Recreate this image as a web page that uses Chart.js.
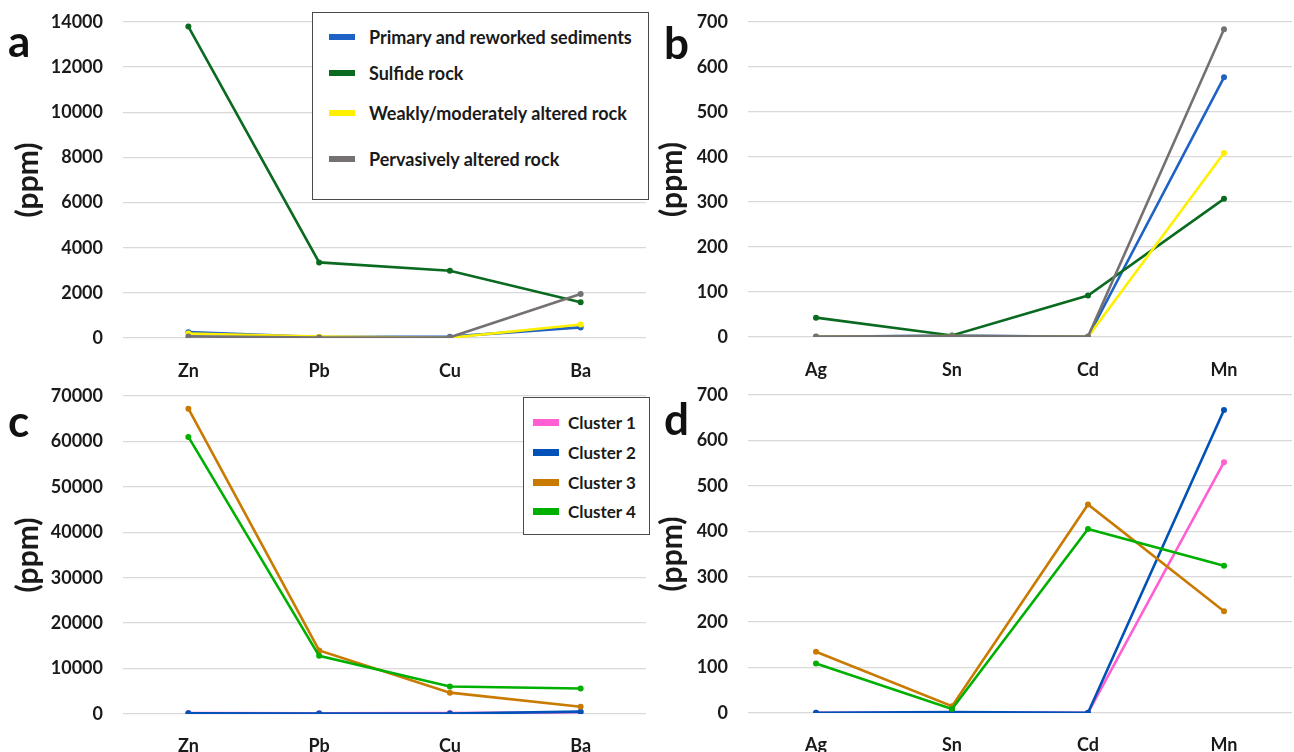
<!DOCTYPE html>
<html>
<head>
<meta charset="utf-8">
<script src="https://cdn.jsdelivr.net/npm/chart.js@4.4.1/dist/chart.umd.min.js"></script>
<style>
  html, body { margin: 0; padding: 0; background: #ffffff; }
  #wrap { position: relative; width: 1294px; height: 752px; overflow: hidden; font-family: "Lato", "DejaVu Sans", sans-serif; }
  canvas { position: absolute; }
  .letter { position: absolute; font-weight: 700; font-size: 44px; line-height: 1; color: #111; }
  .legend { position: absolute; border: 1.5px solid #4a4a4a; background: #fff; box-sizing: border-box; }
  .legend .item { position: absolute; display: flex; align-items: center; white-space: nowrap; font-weight: 700; color: #1a1a1a; }
  .legend .sw { display: inline-block; width: 26px; flex: none; }
</style>
</head>
<body>
<div id="wrap">
  <canvas id="chartA" width="650" height="380" style="left:0;top:0"></canvas>
  <canvas id="chartB" width="646" height="380" style="left:650px;top:0"></canvas>
  <canvas id="chartC" width="650" height="376" style="left:0;top:376px"></canvas>
  <canvas id="chartD" width="646" height="376" style="left:650px;top:376px"></canvas>
  <div class="letter" style="left:8px;top:18px">a</div>
  <div class="letter" style="left:664px;top:20px">b</div>
  <div class="letter" style="left:8px;top:398px">c</div>
  <div class="letter" style="left:664px;top:396px">d</div>
  <div id="legendA" class="legend" style="left:312px;top:12px;width:337px;height:188px"></div>
  <div id="legendC" class="legend" style="left:523px;top:397px;width:127px;height:138px"></div>
</div>
<script>
// Element categories
const majorElements = ['Zn', 'Pb', 'Cu', 'Ba'];
const traceElements = ['Ag', 'Sn', 'Cd', 'Mn'];

// Lithology groups (panels a, b)
const rockTypes = ['Primary and reworked sediments', 'Sulfide rock', 'Weakly/moderately altered rock', 'Pervasively altered rock'];
const rockColors = ['#1f62c6', '#0a6a20', '#fff000', '#767171'];

// Panel a: Zn, Pb, Cu, Ba (ppm)
const primarySedMajor = [260, 40, 60, 470];
const sulfideMajor = [13800, 3350, 2980, 1580];
const weaklyAlteredMajor = [200, 60, 10, 600];
const pervasiveMajor = [70, 20, 30, 1950];

// Panel b: Ag, Sn, Cd, Mn (ppm)
const primarySedTrace = [0.5, 3, 0.5, 577];
const sulfideTrace = [43, 3.5, 92, 307];
const weaklyAlteredTrace = [0.5, 2, 0.3, 409];
const pervasiveTrace = [1, 2, 1, 684];

// Clusters (panels c, d)
const clusterNames = ['Cluster 1', 'Cluster 2', 'Cluster 3', 'Cluster 4'];
const clusterColors = ['#ff5fd2', '#0052b8', '#c97a00', '#00b000'];

// Panel c: Zn, Pb, Cu, Ba (ppm)
const cluster1Major = [200, 150, 200, 400];
const cluster2Major = [150, 100, 100, 520];
const cluster3Major = [67200, 14000, 4700, 1600];
const cluster4Major = [61000, 12800, 6050, 5600];

// Panel d: Ag, Sn, Cd, Mn (ppm)
const cluster1Trace = [0.3, 1, 0.3, 552];
const cluster2Trace = [0.5, 2, 0.5, 667];
const cluster3Trace = [135, 15, 459, 224];
const cluster4Trace = [109, 9, 405, 324];

// Y-axis ranges
const yMaxA = 14000, yStepA = 2000;
const yMaxB = 700, yStepB = 100;
const yMaxC = 70000, yStepC = 10000;
const yMaxD = 700, yStepD = 100;

const FONT = '"Lato", "DejaVu Sans", sans-serif';
const TEXT = '#1a1a1a';

function makeDatasets(names, colors, series) {
  return series.map((vals, i) => ({
    label: names[i],
    data: vals,
    borderColor: colors[i],
    backgroundColor: colors[i],
    borderWidth: 2.6,
    pointRadius: 3,
    pointBorderWidth: 0,
    pointBackgroundColor: colors[i],
    tension: 0,
    order: -i   // later series drawn on top
  }));
}

function makeChart(id, labels, datasets, yMax, yStep, geom) {
  return new Chart(document.getElementById(id), {
    type: 'line',
    data: { labels, datasets },
    options: {
      responsive: false,
      animation: false,
      devicePixelRatio: 1,
      layout: { padding: { top: geom.top, right: 0, left: 0, bottom: 0 } },
      plugins: { legend: { display: false }, tooltip: { enabled: false } },
      scales: {
        x: {
          type: 'category',
          offset: true,
          grid: { display: false, drawTicks: false },
          border: { display: false },
          ticks: { color: TEXT, padding: geom.xPad, font: { family: FONT, size: 18, weight: 'bold' } },
          afterFit: s => { s.height = geom.xH; s.paddingLeft = 0; s.paddingRight = 0; }
        },
        y: {
          min: 0, max: yMax,
          grid: { color: '#d9d9d9', lineWidth: 1.3, drawTicks: false },
          border: { display: false },
          ticks: {
            stepSize: yStep, color: TEXT, padding: 20,
            font: { family: FONT, size: 18, weight: 'bold' },
            callback: v => String(v)
          },
          title: {
            display: true, text: '(ppm)', color: TEXT,
            font: { family: FONT, size: 30, weight: 'bold' },
            padding: { top: geom.titlePad, bottom: 0 }
          },
          afterFit: s => { s.width = geom.yW; s.paddingTop = 0; s.paddingBottom = 0; }
        }
      }
    }
  });
}

makeChart('chartA', majorElements,
  makeDatasets(rockTypes, rockColors, [primarySedMajor, sulfideMajor, weaklyAlteredMajor, pervasiveMajor]),
  yMaxA, yStepA, { top: 22, xH: 42, xPad: 22, yW: 123, titlePad: 10 });

makeChart('chartB', traceElements,
  makeDatasets(rockTypes, rockColors, [primarySedTrace, sulfideTrace, weaklyAlteredTrace, pervasiveTrace]),
  yMaxB, yStepB, { top: 22, xH: 43, xPad: 22, yW: 98, titlePad: 4 });

makeChart('chartC', majorElements,
  makeDatasets(clusterNames, clusterColors, [cluster1Major, cluster2Major, cluster3Major, cluster4Major]),
  yMaxC, yStepC, { top: 20, xH: 38, xPad: 21, yW: 123, titlePad: 10 });

makeChart('chartD', traceElements,
  makeDatasets(clusterNames, clusterColors, [cluster1Trace, cluster2Trace, cluster3Trace, cluster4Trace]),
  yMaxD, yStepD, { top: 19, xH: 39, xPad: 21, yW: 98, titlePad: 4 });

// Boxed legends
function buildLegend(id, names, colors, rowTops, swLeft, swH, textLeft, fontSize) {
  const box = document.getElementById(id);
  names.forEach((name, i) => {
    const item = document.createElement('div');
    item.className = 'item';
    item.style.top = rowTops[i] + 'px';
    item.style.left = swLeft + 'px';
    item.style.fontSize = fontSize + 'px';
    item.style.height = '24px';
    const sw = document.createElement('span');
    sw.className = 'sw';
    sw.style.height = swH + 'px';
    sw.style.background = colors[i];
    const tx = document.createElement('span');
    tx.textContent = name;
    tx.style.marginLeft = (textLeft - swLeft - 26) + 'px';
    item.appendChild(sw);
    item.appendChild(tx);
    box.appendChild(item);
  });
}
buildLegend('legendA', rockTypes, rockColors, [12, 48, 88, 134], 16, 6, 56, 18);
buildLegend('legendC', clusterNames, clusterColors, [12, 42, 72, 101], 9, 7, 44, 17);
</script>
</body>
</html>
